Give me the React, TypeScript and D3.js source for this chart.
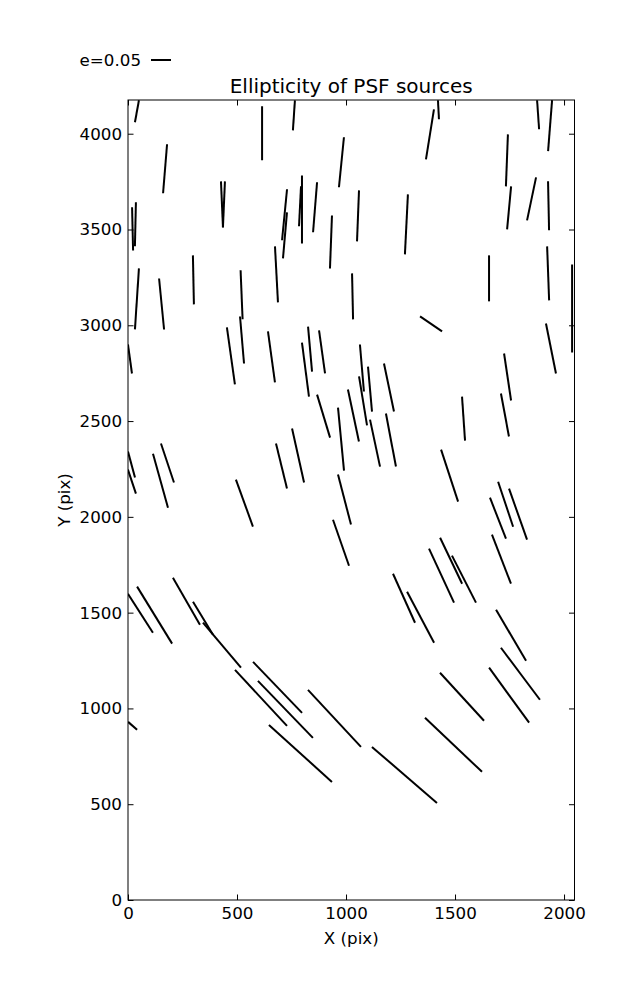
import { useRef, useEffect } from "react";
import * as d3 from "d3";

// PSF source positions (pix) and ellipticity whisker components
const srcX = [
  41, 615, 170, 431, 440, 21, 34, 41, 154, 300, 521, 523, 681, 761, 979, 798,
  789, 718, 720, 858, 1055, 931, 1277, 1030, 1424, 1385, 1881, 1936, 1738,
  1748, 1851, 1929, 1656, 1927, 2037, 9, 472, 658, 16, 18, 149, 181, 534, 704,
  1390, 835, 814, 890, 1073, 1110, 1078, 1197, 897, 1034, 977, 1133, 1206, 780,
  993, 1940, 1741, 1729, 1539, 1475, 1732, 1789, 1697, 57, 122, 268, 344, 431,
  686, 722, 610, 791, 947, 1268, 1493, 1532, 1748, 1800, 21, 977, 1266, 1342,
  1482, 1438, 1541, 1713, 1757,
];
const srcY = [
  4117, 4002, 3817, 3631, 3631, 3503, 3527, 3138, 3111, 3237, 3159, 2923, 3266,
  4096, 3851, 3605, 3621, 3577, 3469, 3616, 3571, 3435, 3527, 3151, 4125, 3997,
  4099, 4042, 3861, 3613, 3660, 3624, 3245, 3271, 3088, 2824, 2840, 2835, 2273,
  2184, 2189, 2281, 2072, 2265, 3007, 2876, 2769, 2861, 2777, 2667, 2605, 2675,
  2526, 2529, 2406, 2385, 2401, 2320, 2090, 2879, 2730, 2532, 2513, 2215, 2066,
  2014, 1993, 1497, 1487, 1560, 1471, 1330, 1110, 995, 1055, 765, 948, 653, 810,
  1061, 1069, 1181, 909, 1865, 1575, 1476, 1771, 1693, 1675, 1779, 1382,
];
const whiskerU = [
  0.01, 0, 0.01, -0.005, 0.005, -0.0025, 0.0025, 0.01, -0.0125, -0.0025, -0.005,
  -0.01, -0.0075, 0.005, 0.0125, 0, 0.005, 0.0125, 0.01, 0.01, 0.005, 0.005,
  0.0075, -0.0025, -0.0025, 0.02, -0.005, 0.01, 0.005, 0.01, 0.0225, -0.0025, 0,
  -0.005, 0, -0.01, -0.02, -0.0175, -0.0175, -0.02, -0.0375, -0.0325, -0.0425,
  -0.0275, -0.055, -0.01, -0.0175, -0.015, -0.01, -0.01, -0.02, -0.025, -0.0325,
  -0.0275, -0.015, -0.025, -0.025, -0.03, -0.0325, -0.025, -0.0175, -0.02,
  -0.0075, -0.0425, -0.0375, -0.045, -0.04, -0.0625, -0.0875, -0.0675, -0.05,
  -0.095, -0.1225, -0.1375, -0.13, -0.1575, -0.1325, -0.1625, -0.1425, -0.11,
  -0.1, -0.0975, -0.0225, -0.04, -0.055, -0.0675, -0.055, -0.0625, -0.06,
  -0.0475, -0.075,
];
const whiskerV = [
  0.055, 0.135, 0.1225, 0.115, 0.115, 0.108, 0.11, 0.1525, 0.1275, 0.1225,
  0.1225, 0.1175, 0.14, 0.075, 0.125, 0.17, 0.1, 0.1275, 0.115, 0.125, 0.1275,
  0.1325, 0.15, 0.115, 0.0475, 0.125, 0.0725, 0.1275, 0.13, 0.1075, 0.1075,
  0.1225, 0.115, 0.135, 0.22, 0.0725, 0.1425, 0.1275, 0.065, 0.06, 0.135,
  0.0975, 0.1175, 0.1125, 0.0375, 0.1125, 0.135, 0.1075, 0.1175, 0.1125, 0.1225,
  0.12, 0.1075, 0.13, 0.1575, 0.1175, 0.1325, 0.135, 0.125, 0.125, 0.1175,
  0.1075, 0.11, 0.13, 0.1125, 0.1275, 0.1025, 0.0975, 0.1425, 0.1175, 0.0825,
  0.1125, 0.1275, 0.1425, 0.14, 0.1425, 0.1425, 0.14, 0.135, 0.12, 0.1375, 0.13,
  0.02, 0.115, 0.1225, 0.1275, 0.115, 0.135, 0.1175, 0.1225, 0.1275,
];

const xTicks = [0, 500, 1000, 1500, 2000];
const yTicks = [0, 500, 1000, 1500, 2000, 2500, 3000, 3500, 4000];
const keyE = 0.05;

const width = 637;
const height = 1000;
const margin = { left: 128, right: 62.5, top: 100, bottom: 100 };
const pxPerE = 400; // whisker length scale: e=0.05 -> 20px
const font = "DejaVu Sans, sans-serif";

export default function App() {
  const ref = useRef<SVGSVGElement>(null);

  useEffect(() => {
    if (!ref.current) return;
    const svg = d3.select(ref.current);
    svg.selectAll("*").remove();

    const x = d3
      .scaleLinear()
      .domain([0, 2048])
      .range([margin.left, width - margin.right]);
    const y = d3
      .scaleLinear()
      .domain([0, 4176])
      .range([height - margin.bottom, margin.top]);

    const [x0, x1] = x.range();
    const [y0, y1] = y.range();
    const fmt = d3.format("d");

    svg
      .append("defs")
      .append("clipPath")
      .attr("id", "plot-clip")
      .append("rect")
      .attr("x", x0)
      .attr("y", y1)
      .attr("width", x1 - x0)
      .attr("height", y0 - y1);

    // whiskers, pivot in the middle
    const idx = d3.range(srcX.length);
    svg
      .append("g")
      .attr("clip-path", "url(#plot-clip)")
      .selectAll("line")
      .data(idx)
      .join("line")
      .attr("x1", (i) => x(srcX[i]) - (whiskerU[i] * pxPerE) / 2)
      .attr("y1", (i) => y(srcY[i]) + (whiskerV[i] * pxPerE) / 2)
      .attr("x2", (i) => x(srcX[i]) + (whiskerU[i] * pxPerE) / 2)
      .attr("y2", (i) => y(srcY[i]) - (whiskerV[i] * pxPerE) / 2)
      .attr("stroke", "#000")
      .attr("stroke-width", 2);

    // axes with inward ticks on all four sides
    const styleAxis = (g: d3.Selection<SVGGElement, unknown, null, undefined>) => {
      g.select(".domain").remove();
      g.selectAll("line").attr("stroke", "#000");
      g.selectAll("text")
        .attr("font-family", font)
        .attr("font-size", "16.7px")
        .attr("fill", "#000");
    };

    svg
      .append("g")
      .attr("transform", `translate(0, ${y0})`)
      .call(d3.axisBottom(x).tickValues(xTicks).tickFormat(fmt).tickSize(-5.5).tickPadding(7))
      .call(styleAxis);
    svg
      .append("g")
      .attr("transform", `translate(0, ${y1})`)
      .call(d3.axisTop(x).tickValues(xTicks).tickSize(-5.5).tickFormat(() => ""))
      .call(styleAxis);
    svg
      .append("g")
      .attr("transform", `translate(${x0}, 0)`)
      .call(d3.axisLeft(y).tickValues(yTicks).tickFormat(fmt).tickSize(-5.5).tickPadding(6))
      .call(styleAxis);
    svg
      .append("g")
      .attr("transform", `translate(${x1}, 0)`)
      .call(d3.axisRight(y).tickValues(yTicks).tickSize(-5.5).tickFormat(() => ""))
      .call(styleAxis);

    // frame
    svg
      .append("rect")
      .attr("x", x0)
      .attr("y", y1)
      .attr("width", x1 - x0)
      .attr("height", y0 - y1)
      .attr("fill", "none")
      .attr("stroke", "#000")
      .attr("stroke-width", 1);

    // title
    svg
      .append("text")
      .attr("x", (x0 + x1) / 2)
      .attr("y", 93)
      .attr("text-anchor", "middle")
      .attr("font-family", font)
      .attr("font-size", "20px")
      .text("Ellipticity of PSF sources");

    // axis labels
    svg
      .append("text")
      .attr("x", (x0 + x1) / 2)
      .attr("y", 944)
      .attr("text-anchor", "middle")
      .attr("font-family", font)
      .attr("font-size", "16.7px")
      .text("X (pix)");
    svg
      .append("text")
      .attr("transform", `translate(70, ${(y0 + y1) / 2}) rotate(-90)`)
      .attr("text-anchor", "middle")
      .attr("font-family", font)
      .attr("font-size", "16.7px")
      .text("Y (pix)");

    // quiver key
    svg
      .append("line")
      .attr("x1", 161 - (keyE * pxPerE) / 2)
      .attr("x2", 161 + (keyE * pxPerE) / 2)
      .attr("y1", 60)
      .attr("y2", 60)
      .attr("stroke", "#000")
      .attr("stroke-width", 2);
    svg
      .append("text")
      .attr("x", 141)
      .attr("y", 66)
      .attr("text-anchor", "end")
      .attr("font-family", font)
      .attr("font-size", "16.7px")
      .text(`e=${keyE}`);
  }, []);

  return (
    <svg
      ref={ref}
      width={width}
      height={height}
      style={{ position: "absolute", left: 0, top: 0, background: "#fff" }}
    />
  );
}
